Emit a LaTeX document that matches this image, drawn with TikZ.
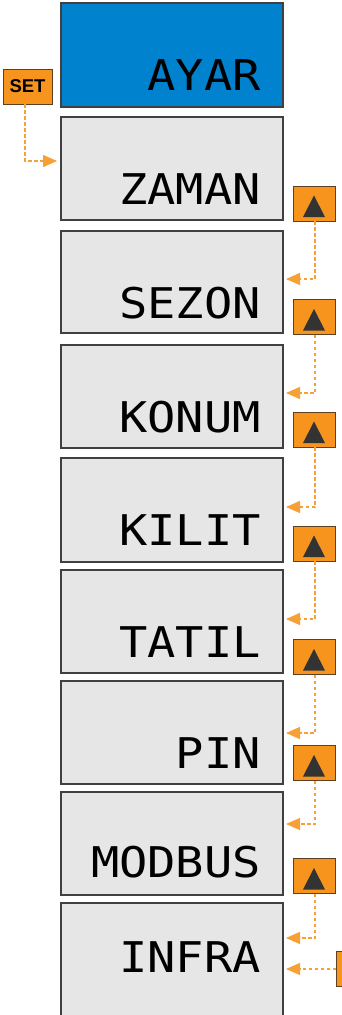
\documentclass[tikz,border=0pt]{standalone}
\usepackage{fontspec}
\setmainfont{Liberation Sans}
\newfontfamily\segfont{DejaVu Sans Mono}
\usetikzlibrary{arrows.meta}
\definecolor{panelgray}{HTML}{E6E6E6}
\definecolor{panelblue}{HTML}{0082CE}
\definecolor{boxline}{HTML}{404040}
\definecolor{btnorange}{HTML}{F7941D}
\definecolor{btnline}{HTML}{5C4020}
\definecolor{connorange}{HTML}{F7A035}
\definecolor{tridark}{HTML}{333333}
\begin{document}
\begin{tikzpicture}[x=1pt,y=-1pt,
  panel/.style={draw=boxline, line width=1.1pt, fill=panelgray, minimum width=222pt,
    minimum height=103pt, inner sep=0pt, outer sep=0pt, anchor=north west},
  lcd/.style={anchor=base east, font=\segfont\fontsize{47}{47}\selectfont, inner sep=0pt, text=black},
  btn/.style={draw=btnline, fill=btnorange, line width=0.8pt, minimum width=42pt,
    minimum height=35pt, inner sep=0pt, outer sep=0pt},
  conn/.style={draw=connorange, line width=1.3pt, dash pattern=on 3.5pt off 2.5pt,
    -{Triangle[length=14pt,width=12pt]}},
  tri/.style={fill=tridark}
]
\useasboundingbox (0,0) rectangle (342,1015);
\clip (0,0) rectangle (342,1015);

% panels
\node[panel, fill=panelblue, minimum height=104pt] (ayar) at (61,3) {};
\node[panel] (zaman) at (61,117) {};
\node[panel, minimum height=102pt] (sezon) at (61,231) {};
\node[panel] (konum) at (61,345) {};
\node[panel, minimum height=104pt] (kilit) at (61,458) {};
\node[panel] (tatil) at (61,570) {};
\node[panel] (pin) at (61,681) {};
\node[panel] (modbus) at (61,792) {};
\node[panel, minimum height=140pt] (infra) at (61,903) {};

% texts
\node[lcd] (tayar) at ([xshift=-22pt,yshift=-87pt]ayar.north east) {\scalebox{1}[0.9]{AYAR}};
\node[lcd] (tzaman) at ([xshift=-22pt,yshift=-87pt]zaman.north east) {\scalebox{1}[0.9]{ZAMAN}};
\node[lcd] (tsezon) at ([xshift=-22pt,yshift=-87pt]sezon.north east) {\scalebox{1}[0.9]{SEZON}};
\node[lcd] (tkonum) at ([xshift=-22pt,yshift=-87pt]konum.north east) {\scalebox{1}[0.9]{KONUM}};
\node[lcd] (tkilit) at ([xshift=-22pt,yshift=-87pt]kilit.north east) {\scalebox{1}[0.9]{KILIT}};
\node[lcd] (ttatil) at ([xshift=-22pt,yshift=-87pt]tatil.north east) {\scalebox{1}[0.9]{TATIL}};
\node[lcd] (tpin) at ([xshift=-22pt,yshift=-87pt]pin.north east) {\scalebox{1}[0.9]{PIN}};
\node[lcd] (tmodbus) at ([xshift=-22pt,yshift=-85pt]modbus.north east) {\scalebox{1}[0.9]{MODBUS}};
\node[lcd] (tinfra) at ([xshift=-22pt,yshift=-69pt]infra.north east) {\scalebox{1}[0.9]{INFRA}};

% SET button
\node[btn, minimum width=49pt, font=\bfseries\fontsize{18.5}{18.5}\selectfont] (set) at (27.5,86.5) {SET};

% up buttons
\foreach \n/\y in {b1/203.5, b2/317, b3/429.5, b4/543.5, b5/657, b6/763, b7/876} {
  \node[btn] (\n) at (314,\y) {};
  \fill[tri] ([xshift=-11pt,yshift=-13.5pt]\n.center) -- ([xshift=11pt,yshift=-13.5pt]\n.center)
     -- ([yshift=8pt]\n.center) -- cycle;
}
% bottom right button (partly visible)
\node[btn] (rb) at (357,969) {};

% connectors
\draw[conn] ([xshift=-2.5pt]set.south) |- ([xshift=-4pt,yshift=-44pt]zaman.north west);
\draw[conn] ([xshift=1pt]b1.south) |- ([xshift=3pt,yshift=-48pt]sezon.north east);
\draw[conn] ([xshift=1pt]b2.south) |- ([xshift=3pt,yshift=-48pt]konum.north east);
\draw[conn] ([xshift=1pt]b3.south) |- ([xshift=3pt,yshift=-49pt]kilit.north east);
\draw[conn] ([xshift=1pt]b4.south) |- ([xshift=3pt,yshift=-49pt]tatil.north east);
\draw[conn] ([xshift=1pt]b5.south) |- ([xshift=3pt,yshift=-52pt]pin.north east);
\draw[conn] ([xshift=1pt]b6.south) |- ([xshift=3pt,yshift=-32pt]modbus.north east);
\draw[conn] ([xshift=1pt]b7.south) |- ([xshift=3pt,yshift=-35pt]infra.north east);
\draw[conn] (rb.west) -- ([xshift=3pt]rb.west -| infra.east);
\end{tikzpicture}
\end{document}
